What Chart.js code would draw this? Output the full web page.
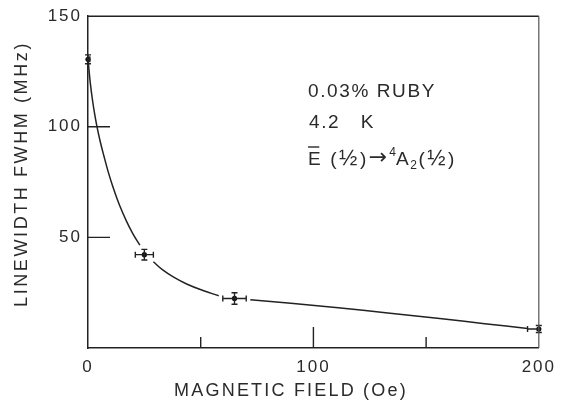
<!DOCTYPE html>
<html>
<head>
<meta charset="utf-8">
<script src="https://cdn.jsdelivr.net/npm/chart.js@4/dist/chart.umd.min.js"></script>
<style>
  html, body { margin: 0; padding: 0; background: #fff; }
  #wrap { width: 562px; height: 408px; }
</style>
</head>
<body>
<div id="wrap"><canvas id="fwhmChart"></canvas></div>
<script>
// measured points (field in Oe, linewidth in MHz) with error bars
const fieldOe = [0, 25, 65, 200];
const widthMHz = [130.5, 42.2, 22.4, 8.6];
const fieldErr = [0.8, 4, 5.2, 5];
const widthErr = [2, 2.4, 2.6, 1.6];

// hand-drawn guide curve, null = gap at a data point
const curveX = [0, 1, 2, 3, 4, 5.5, 7, 9, 11, 14, 17, 20, 23, null, 29, 33, 38, 44, 51, 58, null, 72, 90, 111, 133, 156, 176, 195];
const curveY = [130.5, 120, 112, 105.5, 100, 93, 87, 79.5, 73, 64.5, 57.5, 51.5, 46.5, null, 39, 35.4, 32, 28.8, 26, 23.6, null, 21.8, 20.2, 18.2, 15.8, 13.3, 11, 8.8];

// axis ticks
const xTicks = [0, 100, 200];
const xMinorTicks = [50, 100, 150];
const yTicks = [50, 100, 150];
const yInnerTicks = [50, 100];

const ink = '#222';
const textInk = '#2a2a2a';
const font = 'Liberation Sans, Arial, sans-serif';

const curveData = curveX.map((x, i) => (x === null ? { x: curveX[i - 1] + 1, y: null } : { x: x, y: curveY[i] }));
const pointData = fieldOe.map((x, i) => ({ x: x, y: widthMHz[i] }));

// letter spacing + frame / inward ticks / error bars / labels
const figurePlugin = {
    id: 'figure',
    beforeDraw(chart) {
        chart.ctx.letterSpacing = '2px';
    },
    afterDatasetsDraw(chart) {
        const ctx = chart.ctx;
        const xs = chart.scales.x;
        const ys = chart.scales.y;
        const a = chart.chartArea;
        ctx.save();
        ctx.strokeStyle = ink;
        ctx.lineWidth = 1.4;
        // error bars with small caps
        fieldOe.forEach((f, i) => {
            const px = xs.getPixelForValue(f);
            const py = ys.getPixelForValue(widthMHz[i]);
            const x0 = Math.max(a.left, xs.getPixelForValue(f - fieldErr[i]));
            const x1 = Math.min(a.right, xs.getPixelForValue(f + fieldErr[i]));
            const y0 = ys.getPixelForValue(widthMHz[i] + widthErr[i]);
            const y1 = ys.getPixelForValue(widthMHz[i] - widthErr[i]);
            ctx.beginPath();
            ctx.moveTo(x0, py); ctx.lineTo(x1, py);
            ctx.moveTo(px, y0); ctx.lineTo(px, y1);
            ctx.moveTo(x0, py - 3); ctx.lineTo(x0, py + 3);
            ctx.moveTo(x1, py - 3); ctx.lineTo(x1, py + 3);
            ctx.moveTo(px - 3, y0); ctx.lineTo(px + 3, y0);
            ctx.moveTo(px - 3, y1); ctx.lineTo(px + 3, y1);
            ctx.stroke();
        });
        // top and right frame
        ctx.beginPath();
        ctx.moveTo(a.left, a.top); ctx.lineTo(a.right, a.top);
        ctx.stroke();
        ctx.strokeStyle = '#555';
        ctx.lineWidth = 1.2;
        ctx.beginPath();
        ctx.moveTo(a.right, a.top); ctx.lineTo(a.right, a.bottom);
        ctx.stroke();
        // inward ticks
        ctx.strokeStyle = ink;
        ctx.lineWidth = 1.4;
        ctx.beginPath();
        yInnerTicks.forEach(v => {
            const py = ys.getPixelForValue(v);
            ctx.moveTo(a.left, py); ctx.lineTo(a.left + 22, py);
        });
        xMinorTicks.forEach(v => {
            const px = xs.getPixelForValue(v);
            ctx.moveTo(px, a.bottom); ctx.lineTo(px, a.bottom - (v % 100 === 0 ? 21 : 11));
        });
        ctx.stroke();

        // axis titles
        ctx.fillStyle = textInk;
        ctx.letterSpacing = '2.2px';
        ctx.font = '18px ' + font;
        ctx.textAlign = 'center';
        ctx.textBaseline = 'alphabetic';
        ctx.fillText('MAGNETIC FIELD (Oe)', 291, 396);
        ctx.save();
        ctx.translate(27, 174);
        ctx.rotate(-Math.PI / 2);
        ctx.letterSpacing = '2.6px';
        ctx.fillText('LINEWIDTH FWHM (MHz)', 0, 0);
        ctx.restore();

        // sample label
        ctx.textAlign = 'left';
        ctx.letterSpacing = '1.6px';
        ctx.font = '19px ' + font;
        ctx.fillText('0.03% RUBY', 308, 97);
        ctx.fillText('4.2   K', 309, 128);
        const base = 165;
        let cx = 308;
        const put = (txt, size, dy, fam) => {
            ctx.font = size + 'px ' + (fam || font);
            ctx.fillText(txt, cx, base + dy);
            const w = ctx.measureText(txt).width;
            cx += w;
            return w;
        };
        const eStart = cx;
        const ew = put('E', 19, 0);
        ctx.beginPath();
        ctx.lineWidth = 1.4;
        ctx.strokeStyle = textInk;
        ctx.moveTo(eStart, base - 18); ctx.lineTo(eStart + ew - 3, base - 18);
        ctx.stroke();
        cx += 8;
        ctx.letterSpacing = '2.5px';
        put('(', 19, 0);
        put('½', 22, 0);
        put(')', 19, 0);
        ctx.letterSpacing = '0px';
        put('→', 22, -1, 'DejaVu Sans');
        cx += 2;
        put('4', 12, -9);
        ctx.letterSpacing = '1.6px';
        put('A', 19, 0);
        put('2', 12, 4);
        ctx.letterSpacing = '2.5px';
        put('(', 19, 0);
        put('½', 22, 0);
        put(')', 19, 0);
        ctx.restore();
    }
};

new Chart(document.getElementById('fwhmChart'), {
    type: 'line',
    data: {
        datasets: [{
            label: 'guide',
            data: curveData,
            borderColor: ink,
            borderWidth: 1.5,
            pointRadius: 0,
            spanGaps: false,
            tension: 0.4,
            fill: false
        }, {
            label: 'measured',
            data: pointData,
            showLine: false,
            pointRadius: 2.6,
            pointBackgroundColor: '#111',
            pointBorderWidth: 0
        }]
    },
    options: {
        responsive: true,
        maintainAspectRatio: false,
        animation: false,
        clip: false,
        layout: { padding: { top: 12, right: 22, left: 0, bottom: 0 } },
        plugins: { legend: { display: false }, tooltip: { enabled: false } },
        scales: {
            x: {
                type: 'linear',
                min: 0,
                max: 200,
                afterBuildTicks: s => { s.ticks = xTicks.map(v => ({ value: v })); },
                afterFit: s => { s.height = 60; },
                ticks: { color: textInk, font: { family: font, size: 17 }, padding: 9, maxRotation: 0 },
                grid: { display: true, drawOnChartArea: false, drawTicks: false },
                border: { color: ink, width: 1.5 }
            },
            y: {
                min: 0,
                max: 150,
                afterBuildTicks: s => { s.ticks = yTicks.map(v => ({ value: v })); },
                afterFit: s => { s.width = 88; },
                ticks: { color: textInk, font: { family: font, size: 17 }, padding: 6 },
                grid: { display: true, drawOnChartArea: false, drawTicks: false },
                border: { color: ink, width: 1.5 }
            }
        }
    },
    plugins: [figurePlugin]
});
</script>
</body>
</html>
